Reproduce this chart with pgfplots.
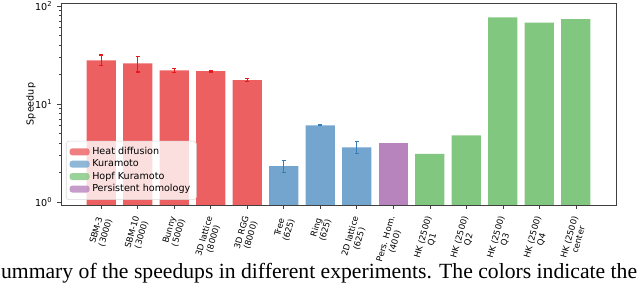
\documentclass[border=0pt]{standalone}
\usepackage{fontspec}
\setmainfont{Liberation Serif}
\setsansfont{DejaVu Sans}
\usepackage{pgfplots}
\pgfplotsset{compat=1.18}
\definecolor{cred}{RGB}{236,96,98}
\definecolor{cblue}{RGB}{115,165,206}
\definecolor{cgreen}{RGB}{130,199,128}
\definecolor{cpurple}{RGB}{183,132,190}
\definecolor{ered}{RGB}{228,26,28}
\definecolor{eblue}{RGB}{55,126,184}
\begin{document}
\begin{tikzpicture}
\useasboundingbox (0,0) rectangle (480pt,214.5pt);
\begin{axis}[
  at={(45.75pt,60.75pt)}, anchor=south west,
  scale only axis, width=416.25pt, height=151.5pt,
  ymode=log, log origin=infty,
  xmin=-1.1, xmax=14.1, ymin=0.932, ymax=107.3,
  ybar, bar width=0.8, bar shift=0pt,
  tick pos=left, tick align=outside,
  major tick length=3pt, minor tick length=1.6pt,
  axis line style={black!75},
  every tick/.style={black!75},
  font=\sffamily\fontsize{7.2}{8.5}\selectfont,
  xtick={0,...,13},
  xticklabels={{SBM-3\\(3000)},{SBM-10\\(3000)},{Bunny\\(5000)},{3D lattice\\(8000)},{3D RGG\\(8000)},{Tree\\(625)},{Ring\\(625)},{2D lattice\\(625)},{Pers. Hom.\\(400)},{HK (2500)\\Q1},{HK (2500)\\Q2},{HK (2500)\\Q3},{HK (2500)\\Q4},{HK (2500)\\center}},
  xticklabel style={xshift=3.3pt, yshift=-5pt, rotate=74, anchor=east, align=center, inner sep=1.5pt, font=\sffamily\fontsize{6.4}{7.1}\selectfont},
  ytick={1,10,100},
  yticklabels={10\textsuperscript{0},10\textsuperscript{1},10\textsuperscript{2}},
  ylabel={Speedup},
  ylabel style={at={(axis description cs:-0.054,0.5)}, anchor=center},
  legend image code/.code={\fill[#1,draw=none] (0pt,-2.6pt) rectangle (15pt,2.6pt);},
  legend style={at={(0.009,0.025)}, anchor=south west, draw=black!15, fill=white, fill opacity=0.8, text opacity=1, rounded corners=2pt, row sep=-1.6pt, inner sep=2.5pt, font=\sffamily\fontsize{7.2}{8.5}\selectfont},
  legend cell align=left,
  error bars/y dir=both, error bars/y explicit,
]
\addplot[fill=cred, draw=none, error bars/.cd, error bar style={ered, line width=0.8pt}, error mark options={ered, rotate=90, mark size=1.6pt, line width=0.8pt}]
coordinates {
 (0,27.9) += (0,3.7) -= (0,3.0)
 (1,26.0) += (0,4.8) -= (0,4.8)
 (2,22.1) += (0,1.1) -= (0,1.0)
 (3,21.7) += (0,0.5) -= (0,0.5)
 (4,17.5) += (0,0.6) -= (0,0.6)
};
\addlegendentry{Heat diffusion}
\addplot[fill=cblue, draw=none, error bars/.cd, error bar style={eblue, line width=0.8pt}, error mark options={eblue, rotate=90, mark size=1.6pt, line width=0.8pt}]
coordinates {
 (5,2.33) += (0,0.31) -= (0,0.32)
 (6,6.06) += (0,0.05) -= (0,0.05)
 (7,3.61) += (0,0.51) -= (0,0.47)
};
\addlegendentry{Kuramoto}
\addplot[fill=cgreen, draw=none, error bars/y dir=none]
coordinates {(9,3.09) (10,4.79) (11,76.6) (12,67.6) (13,73.6)};
\addlegendentry{Hopf Kuramoto}
\addplot[fill=cpurple, draw=none, error bars/y dir=none]
coordinates {(8,3.97)};
\addlegendentry{Persistent homology}
\end{axis}
\begin{scope}
\clip (0,0) rectangle (480pt,214.5pt);
\node[anchor=base west, inner sep=0pt] at (0.6pt,5.6pt) {\resizebox{477pt}{!}{ummary of the speedups in different experiments. The colors indicate the}};
\end{scope}
\end{tikzpicture}
\end{document}
